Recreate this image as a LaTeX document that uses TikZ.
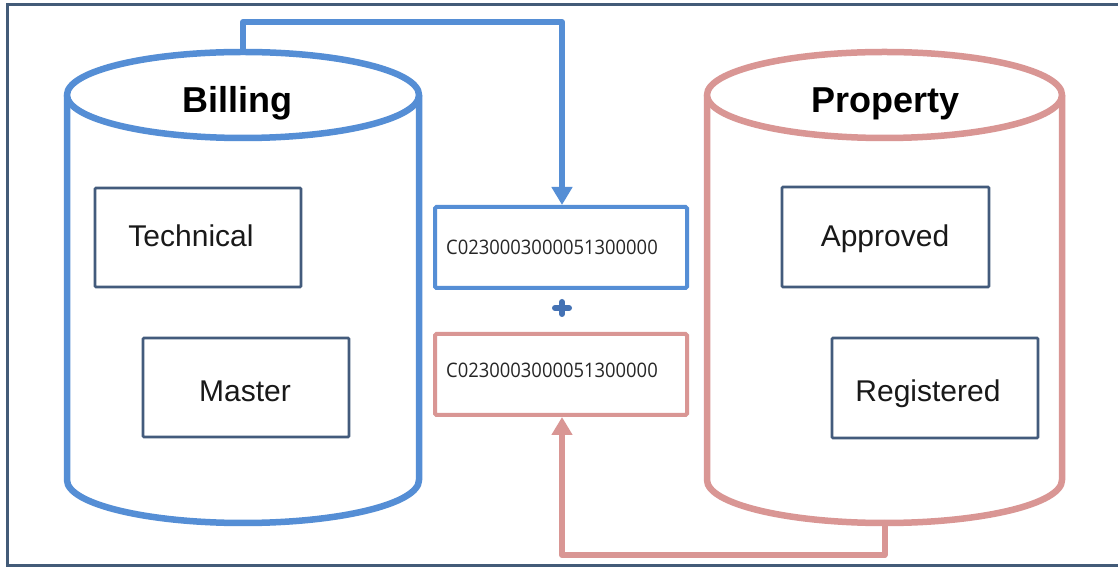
\documentclass[tikz,border=0pt]{standalone}
\usepackage{fontspec}
\setmainfont{Liberation Sans}
\newfontfamily\codefont[FakeStretch=0.92]{Open Sans}
\usetikzlibrary{arrows.meta}
\definecolor{billblue}{HTML}{558ED5}
\definecolor{propink}{HTML}{D99694}
\definecolor{boxdark}{HTML}{435B7C}
\definecolor{framedark}{HTML}{435B78}
\definecolor{plusblue}{HTML}{4472B4}
\tikzset{
  cyl/.style={line width=6.5pt, fill=white, line join=round},
  dbtitle/.style={font=\fontsize{36}{40}\selectfont\bfseries, text=black, anchor=base, inner sep=0pt},
  tablebox/.style={draw=boxdark, line width=2.7pt, rounded corners=1pt, minimum width=206pt, minimum height=99pt, inner sep=0pt},
  tablelabel/.style={font=\fontsize{30}{34}\selectfont, text=black!90, anchor=base, inner sep=0pt},
  codebox/.style={line width=4pt, rounded corners=1.5pt, fill=white, minimum width=252pt, minimum height=81pt, inner sep=0pt},
  codetext/.style={font=\codefont\fontsize{20}{24}\selectfont, text=black!85, anchor=base west, inner sep=0pt},
  link/.style={line width=6pt, line join=round, line cap=round},
}
\begin{document}
\begin{tikzpicture}[x=1pt,y=1pt]
\useasboundingbox (0,0) rectangle (1118,567);
\fill[white] (0,0) rectangle (1118,567);
% outer frame
\draw[framedark, line width=3pt] (1130,562) -- (7.5,562) -- (7.5,1) -- (1130,1);

% Billing cylinder
\draw[cyl, draw=billblue] (67,472) -- (67,87) arc[start angle=180, end angle=360, x radius=176pt, y radius=43pt] -- (419,472);
\draw[cyl, draw=billblue] (243,472) ellipse [x radius=176pt, y radius=43pt];
\coordinate (billtop) at (243,515);
\node[dbtitle] (billing) at (237,454) {Billing};

% Property cylinder
\draw[cyl, draw=propink] (707,472) -- (707,87) arc[start angle=180, end angle=360, x radius=177.5pt, y radius=43pt] -- (1062,472);
\draw[cyl, draw=propink] (884.5,472) ellipse [x radius=177.5pt, y radius=43pt];
\coordinate (propbot) at (884.5,44);
\node[dbtitle] (property) at (885.5,454) {Property};

% table boxes
\node[tablebox] (technical) at (198,329.5) {};
\node[tablelabel] (technicaltxt) at (191,320) {Technical};
\node[tablebox] (master) at (246,179.5) {};
\node[tablelabel] (mastertxt) at (245,165) {Master};
\node[tablebox, minimum height=100pt, minimum width=207pt] (approved) at (885.5,330) {};
\node[tablelabel] (approvedtxt) at (885,320) {Approved};
\node[tablebox, minimum height=100pt] (registered) at (935,179) {};
\node[tablelabel] (registeredtxt) at (928,165) {Registered};

% code boxes
\node[codebox, draw=billblue] (code1) at (561,319.5) {};
\node[codetext] (code1txt) at (446,312) {C0230003000051300000};
\node[codebox, draw=propink] (code2) at (561,192.5) {};
\node[codetext] (code2txt) at (446,189) {C0230003000051300000};

% plus
\coordinate (plus) at (562,259);
\draw[plusblue, line width=6pt, line cap=round] ([xshift=-7pt]plus) -- ([xshift=7pt]plus);
\draw[plusblue, line width=6pt, line cap=round] ([yshift=-6pt]plus) -- ([yshift=6pt]plus);

% connectors
\draw[link, draw=billblue, -{Triangle[length=18pt,width=20pt]}] (billtop) -- (243,545) -- (562,545) -- ([xshift=1pt]code1.north);
\draw[link, draw=propink, -{Triangle[length=18pt,width=20pt]}] (propbot) -- (884.5,12) -- (562,12) -- ([xshift=1pt]code2.south);
\end{tikzpicture}
\end{document}
